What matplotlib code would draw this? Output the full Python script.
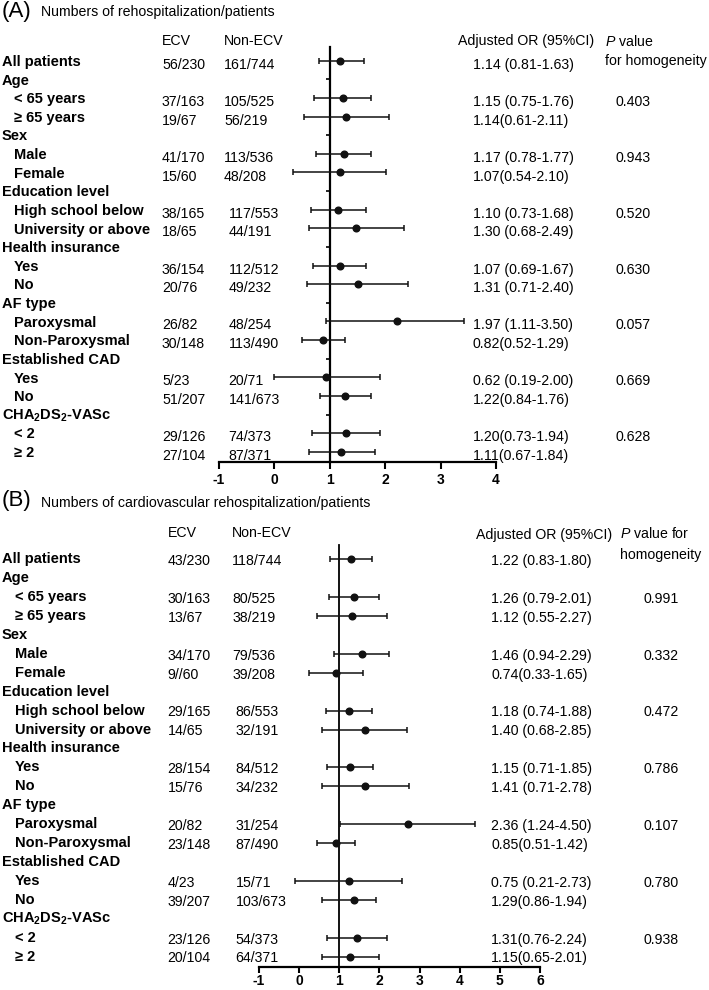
import matplotlib
matplotlib.use('Agg')
import numpy as np
import matplotlib.pyplot as plt
from matplotlib.transforms import blended_transform_factory

plt.rcParams['font.family'] = ['Liberation Sans', 'DejaVu Sans']
plt.rcParams['mathtext.fontset'] = 'custom'
plt.rcParams['mathtext.rm'] = 'Liberation Sans'
plt.rcParams['mathtext.it'] = 'Liberation Sans:italic'
plt.rcParams['mathtext.bf'] = 'Liberation Sans:bold'
plt.rcParams['axes.unicode_minus'] = False

# row labels (same for both panels)
labels = ['All patients', 'Age', '< 65 years', '≥ 65 years', 'Sex', 'Male', 'Female',
          'Education level', 'High school below', 'University or above',
          'Health insurance', 'Yes', 'No', 'AF type', 'Paroxysmal', 'Non-Paroxysmal',
          'Established CAD', 'Yes', 'No', r'CHA$_{\mathbf{2}}$DS$_{\mathbf{2}}$-VASc',
          '< 2', '≥ 2']
group_rows = [0, 1, 4, 7, 10, 13, 16, 19]
est_rows = [0, 2, 3, 5, 6, 8, 9, 11, 12, 14, 15, 17, 18, 20, 21]
p_rows = [2, 5, 8, 11, 14, 17, 20]

# panel A: rehospitalization
ecv_a = ['56/230', '', '37/163', '19/67', '', '41/170', '15/60', '', '38/165', '18/65', '',
         '36/154', '20/76', '', '26/82', '30/148', '', '5/23', '51/207', '', '29/126', '27/104']
nonecv_a = ['161/744', '', '105/525', '56/219', '', '113/536', '48/208', '', '117/553', '44/191', '',
            '112/512', '49/232', '', '48/254', '113/490', '', '20/71', '141/673', '', '74/373', '87/371']
or_a = ['1.14 (0.81-1.63)', '', '1.15 (0.75-1.76)', '1.14(0.61-2.11)', '', '1.17 (0.78-1.77)',
        '1.07(0.54-2.10)', '', '1.10 (0.73-1.68)', '1.30 (0.68-2.49)', '', '1.07 (0.69-1.67)',
        '1.31 (0.71-2.40)', '', '1.97 (1.11-3.50)', '0.82(0.52-1.29)', '', '0.62 (0.19-2.00)',
        '1.22(0.84-1.76)', '', '1.20(0.73-1.94)', '1.11(0.67-1.84)']
p_a = ['0.403', '0.943', '0.520', '0.630', '0.057', '0.669', '0.628']
# plotted positions as drawn in the figure
pt_a = [1.19, 1.23, 1.30, 1.25, 1.18, 1.15, 1.48, 1.18, 1.50, 2.21, 0.88, 0.94, 1.28, 1.30, 1.21]
lo_a = [0.80, 0.72, 0.53, 0.75, 0.34, 0.66, 0.63, 0.70, 0.58, 0.94, 0.49, 0.00, 0.82, 0.68, 0.63]
hi_a = [1.61, 1.74, 2.06, 1.75, 2.01, 1.65, 2.34, 1.66, 2.42, 3.42, 1.28, 1.90, 1.75, 1.91, 1.81]

# panel B: cardiovascular rehospitalization
ecv_b = ['43/230', '', '30/163', '13/67', '', '34/170', '9//60', '', '29/165', '14/65', '',
         '28/154', '15/76', '', '20/82', '23/148', '', '4/23', '39/207', '', '23/126', '20/104']
nonecv_b = ['118/744', '', '80/525', '38/219', '', '79/536', '39/208', '', '86/553', '32/191', '',
            '84/512', '34/232', '', '31/254', '87/490', '', '15/71', '103/673', '', '54/373', '64/371']
or_b = ['1.22 (0.83-1.80)', '', '1.26 (0.79-2.01)', '1.12 (0.55-2.27)', '', '1.46 (0.94-2.29)',
        '0.74(0.33-1.65)', '', '1.18 (0.74-1.88)', '1.40 (0.68-2.85)', '', '1.15 (0.71-1.85)',
        '1.41 (0.71-2.78)', '', '2.36 (1.24-4.50)', '0.85(0.51-1.42)', '', '0.75 (0.21-2.73)',
        '1.29(0.86-1.94)', '', '1.31(0.76-2.24)', '1.15(0.65-2.01)']
p_b = ['0.991', '0.332', '0.472', '0.786', '0.107', '0.780', '0.938']
pt_b = [1.30, 1.36, 1.32, 1.56, 0.92, 1.24, 1.64, 1.27, 1.65, 2.70, 0.93, 1.23, 1.36, 1.44, 1.26]
lo_b = [0.78, 0.74, 0.44, 0.88, 0.25, 0.67, 0.58, 0.69, 0.57, 1.02, 0.45, -0.10, 0.58, 0.69, 0.58]
hi_b = [1.81, 1.98, 2.19, 2.25, 1.59, 1.81, 2.69, 1.84, 2.74, 4.37, 1.38, 2.56, 1.91, 2.19, 1.98]

W, H = 709, 990
fig = plt.figure(figsize=(W / 100, H / 100), dpi=100)


def fx(px):
    return px / W


def fy(py):
    return 1 - py / H


def panel(box, xmax, ticks_on_ref, ecv, nonecv, ors, ps, pt, lo, hi, cols, dy, refw, tick_pad):
    left, top, right, bottom = box
    ax = fig.add_axes([fx(left), fy(bottom), fx(right) - fx(left), (bottom - top) / H])
    ax.set_xlim(-1, xmax)
    ax.set_ylim(21.55, -0.75)
    ax.spines['top'].set_visible(False)
    ax.spines['right'].set_visible(False)
    ax.spines['left'].set_position(('data', 1))
    ax.spines['left'].set_linewidth(refw)
    ax.spines['bottom'].set_linewidth(1.6)
    ax.set_xticks(range(-1, xmax + 1))
    ax.tick_params(axis='x', direction='out', length=tick_pad[0], width=1.5,
                   labelsize=10, pad=tick_pad[1])
    for t in ax.get_xticklabels():
        t.set_fontweight('bold')
    if ticks_on_ref:
        ax.set_yticks(group_rows[1:])
        ax.tick_params(axis='y', direction='out', length=3, width=1.2, labelleft=False)
    else:
        ax.set_yticks([])

    pt = np.array(pt)
    ax.errorbar(pt, est_rows, xerr=[pt - np.array(lo), np.array(hi) - pt], fmt='o',
                color='#111111', ms=4.8, elinewidth=1.1, capsize=2, capthick=1.1,
                clip_on=False, zorder=3)

    tr = blended_transform_factory(fig.transFigure, ax.transData)
    x_grp, x_sub, x_ecv, x_non, x_or, x_p = cols
    for i, lab in enumerate(labels):
        x = x_grp if i in group_rows else x_sub
        ax.text(fx(x), i + dy[0], lab, transform=tr, fontsize=10.5, fontweight='bold',
                va='center', ha='left')
        if ecv[i]:
            ax.text(fx(x_ecv), i + dy[1], ecv[i], transform=tr, fontsize=10.2, va='center')
            xn = x_non[0] if i < 7 else x_non[1]
            ax.text(fx(xn), i + dy[1], nonecv[i], transform=tr, fontsize=10.2, va='center')
            ax.text(fx(x_or), i + dy[1], ors[i], transform=tr, fontsize=10.2, va='center')
    for r, p in zip(p_rows, ps):
        ax.text(fx(x_p), r + dy[1], p, transform=tr, fontsize=10.2, va='center')
    return ax


# panel A
panel((219, 46.7, 496, 462), 4, True, ecv_a, nonecv_a, or_a, p_a, pt_a, lo_a, hi_a,
      (2, 14, 162, (224, 228.5), 472.7, 615), (0.07, 0.22), 1.6, (5, 3))
fig.text(fx(2), fy(11), '(A)', fontsize=16, va='center')
fig.text(fx(41), fy(12), 'Numbers of rehospitalization/patients', fontsize=10.2, va='center')
fig.text(fx(162), fy(41), 'ECV', fontsize=10.2, va='center')
fig.text(fx(224), fy(41), 'Non-ECV', fontsize=10.2, va='center')
fig.text(fx(458), fy(41), 'Adjusted OR (95%CI)', fontsize=10.2, va='center')
fig.text(fx(605), fy(41), r'$\mathit{P}$ value', fontsize=10.2, va='center')
fig.text(fx(605), fy(61), 'for homogeneity', fontsize=10.2, va='center')

# panel B
panel((259, 545, 540, 967), 6, False, ecv_b, nonecv_b, or_b, p_b, pt_b, lo_b, hi_b,
      (2, 15, 167.7, (232.3, 235.5), 491, 643), (0.0, 0.1), 1.3, (4, 1))
fig.text(fx(2), fy(500), '(B)', fontsize=16, va='center')
fig.text(fx(41), fy(503), 'Numbers of cardiovascular rehospitalization/patients', fontsize=10.2, va='center')
fig.text(fx(168), fy(533), 'ECV', fontsize=10.2, va='center')
fig.text(fx(232), fy(533), 'Non-ECV', fontsize=10.2, va='center')
fig.text(fx(476), fy(535), 'Adjusted OR (95%CI)', fontsize=10.2, va='center')
fig.text(fx(620), fy(533), r'$\mathit{P}$ value for', fontsize=10.2, va='center')
fig.text(fx(620), fy(555), 'homogeneity', fontsize=10.2, va='center')

fig.savefig('out.png', dpi=100)
